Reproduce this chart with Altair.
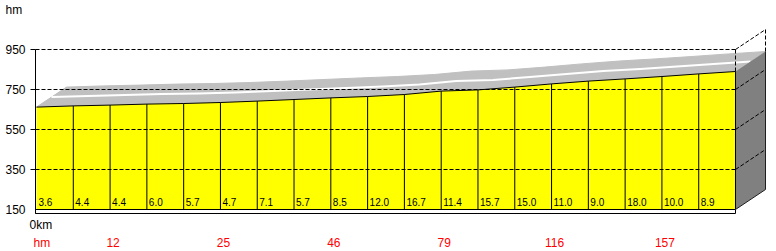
import altair as alt
import pandas as pd

# ---------------- data ----------------
seg_labels = ["3.6", "4.4", "4.4", "6.0", "5.7", "4.7", "7.1", "5.7", "8.5", "12.0",
              "16.7", "11.4", "15.7", "15.0", "11.0", "9.0", "18.0", "10.0", "8.9"]
elevations = [662, 668, 672, 677, 680, 685, 692, 700, 708, 715,
              725, 742, 748, 762, 778, 792, 803, 815, 828, 840]
y_ticks = [150, 350, 550, 750, 950]
grid_levels = [350, 550, 750, 950]
km_marks = [2, 5, 8, 11, 14, 17]
km_labels = ["12", "25", "46", "79", "116", "157"]
base_level = 150

# ---------------- geometry / style ----------------
W, H = 776, 251
PX = 36.79            # pixels per segment
X0 = 36.5             # pixel of segment boundary 0
DX = 30 / PX          # 3D depth in x (segment units)
DY = 100              # 3D depth in y (metres)
AX = -1 / PX          # axis line position
N = len(seg_labels)
FONT = "Liberation Sans"

xs = alt.Scale(domain=[-X0 / PX, (W - X0) / PX], nice=False, zero=False)
ys = alt.Scale(domain=[-57.5, -57.5 + H * 5], nice=False, zero=False)


def X(f):
    return alt.X(f"{f}:Q", scale=xs, axis=None)


def Y(f):
    return alt.Y(f"{f}:Q", scale=ys, axis=None)


# top surface polygon (front profile + back profile)
pts = [(i, e) for i, e in enumerate(elevations)]
pts += [(i + DX, e + DY) for i, e in reversed(list(enumerate(elevations)))]
pts.append(pts[0])
top_df = pd.DataFrame({"x": [p[0] for p in pts], "y": [p[1] for p in pts],
                       "o": list(range(len(pts)))})
top = alt.Chart(top_df).mark_line(fill="#c0c0c0", stroke="#c0c0c0", strokeWidth=1).encode(
    x=X("x"), y=Y("y"), order="o:Q")

stripe_df = pd.DataFrame({"x": [i + DX * 0.5 for i in range(N + 1)],
                          "y": [e + DY * 0.5 for e in elevations]})
stripe = alt.Chart(stripe_df).mark_line(color="white", strokeWidth=2).encode(x=X("x"), y=Y("y"))

# right face
face_df = pd.DataFrame({"x": [N, N + DX], "t": [elevations[-1], elevations[-1] + DY],
                        "b": [base_level, base_level + DY]})
face = alt.Chart(face_df).mark_area(color="#808080", opacity=1).encode(
    x=X("x"), y=Y("t"), y2="b:Q")

# yellow profile
prof_df = pd.DataFrame({"x": list(range(N + 1)), "e": elevations,
                        "b": [base_level] * (N + 1)})
yellow = alt.Chart(prof_df).mark_area(color="#ffff00", opacity=1).encode(
    x=X("x"), y=Y("e"), y2="b:Q")
outline = alt.Chart(prof_df).mark_line(color="black", strokeWidth=1).encode(x=X("x"), y=Y("e"))

vr_df = prof_df.iloc[1:]
vrules = alt.Chart(vr_df).mark_rule(color="black", strokeWidth=1).encode(
    x=X("x"), y=Y("b"), y2="e:Q")

# bottom strip
box_df = pd.DataFrame({"x": [AX], "x2": [N], "y": [base_level - 20], "y2": [base_level]})
box = alt.Chart(box_df).mark_rect(fill="white", stroke="black", strokeWidth=1).encode(
    x=X("x"), x2="x2:Q", y=Y("y"), y2="y2:Q")

# grid lines
g_df = pd.DataFrame({"v": grid_levels})
g_df["x"] = AX
g_df["x2"] = N
g_df["xt"] = -6 / PX
g_df["xd"] = N + DX
g_df["vd"] = g_df["v"] + DY
grid = alt.Chart(g_df).mark_rule(color="black", strokeWidth=1, strokeDash=[4, 2]).encode(
    x=X("x"), x2="x2:Q", y=Y("v"))
diag = alt.Chart(g_df).mark_rule(color="black", strokeWidth=1, strokeDash=[4, 2]).encode(
    x=X("x2"), x2="xd:Q", y=Y("v"), y2="vd:Q")
ticks = alt.Chart(g_df).mark_rule(color="black", strokeWidth=1).encode(
    x=X("xt"), x2="x:Q", y=Y("v"))

top_v = max(grid_levels)
vd_df = pd.DataFrame({"x": [N, N + DX], "y": [elevations[-1], elevations[-1] + DY],
                      "y2": [top_v, top_v + DY]})
vdash = alt.Chart(vd_df).mark_rule(color="black", strokeWidth=1, strokeDash=[4, 2]).encode(
    x=X("x"), y=Y("y"), y2="y2:Q")

edge_df = pd.DataFrame({"x": [N, N + DX], "x2": [N + DX, N + DX],
                        "y": [base_level, base_level + DY],
                        "y2": [base_level + DY, elevations[-1] + DY]})
edges = alt.Chart(edge_df).mark_rule(color="#202020", strokeWidth=1).encode(
    x=X("x"), x2="x2:Q", y=Y("y"), y2="y2:Q")

axis_df = pd.DataFrame({"x": [AX], "y": [base_level - 20], "y2": [top_v]})
axis_line = alt.Chart(axis_df).mark_rule(color="black", strokeWidth=1).encode(
    x=X("x"), y=Y("y"), y2="y2:Q")

# texts
sl_df = pd.DataFrame({"x": list(range(N)), "t": seg_labels, "y": [base_level + 20] * N})
seg_text = alt.Chart(sl_df).mark_text(align="left", baseline="alphabetic", dx=2,
                                      fontSize=10, font=FONT, color="black").encode(
    x=X("x"), y=Y("y"), text="t:N")

yl_df = pd.DataFrame({"v": y_ticks, "t": [str(v) for v in y_ticks], "x": [-11 / PX] * len(y_ticks)})
y_text = alt.Chart(yl_df).mark_text(align="right", baseline="middle", fontSize=12,
                                    font=FONT, color="black").encode(
    x=X("x"), y=Y("v"), text="t:N")

misc_df = pd.DataFrame({"x": [-31 / PX, -7 / PX], "y": [1150, 75], "t": ["hm", "0km"]})
misc_text = alt.Chart(misc_df).mark_text(align="left", baseline="middle", fontSize=12,
                                         font=FONT, color="black").encode(
    x=X("x"), y=Y("y"), text="t:N")

red_df = pd.DataFrame({"x": km_marks, "t": km_labels, "y": [-15] * len(km_marks)})
red_text = alt.Chart(red_df).mark_text(align="center", baseline="middle", dx=3, fontSize=12,
                                       font=FONT, color="#ff0000").encode(
    x=X("x"), y=Y("y"), text="t:N")
redhm_df = pd.DataFrame({"x": [-3 / PX], "y": [-15], "t": ["hm"]})
redhm = alt.Chart(redhm_df).mark_text(align="left", baseline="middle", fontSize=12,
                                      font=FONT, color="#ff0000").encode(
    x=X("x"), y=Y("y"), text="t:N")

chart = alt.layer(
    top, stripe, face, yellow, outline, vrules, box, grid, diag, ticks, vdash, edges,
    axis_line, seg_text, y_text, misc_text, red_text, redhm
).properties(
    width=W, height=H, autosize=alt.AutoSizeParams(type="none"), padding=0,
    background="white"
).configure_view(strokeWidth=0)

chart.save("out.html", embed_options={"renderer": "svg", "actions": False})
